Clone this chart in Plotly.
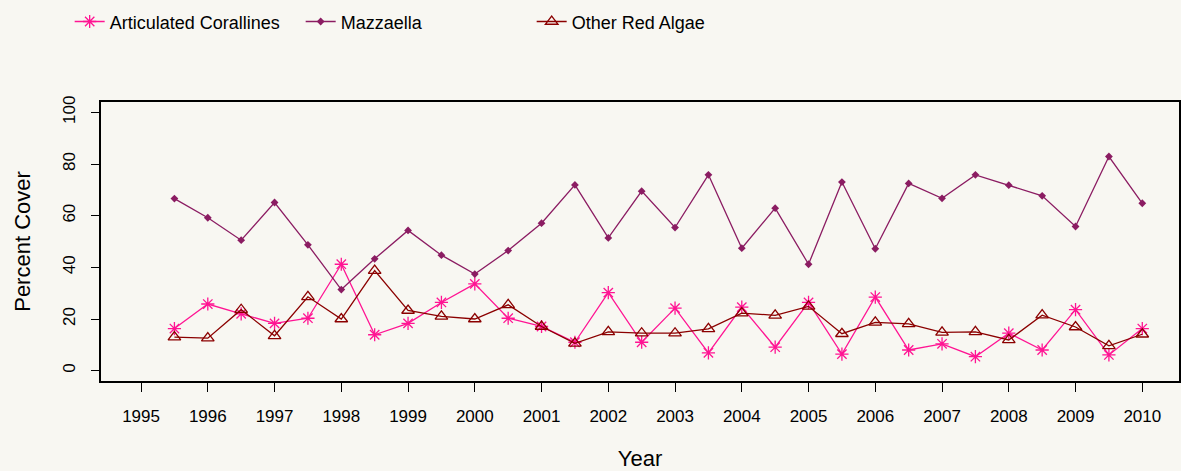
import plotly.graph_objs as go

years = [1995.5 + 0.5 * i for i in range(30)]

corallines = [16.3, 25.8, 22.0, 18.3, 20.3, 41.2, 13.9, 18.3, 26.4, 33.6,
              20.3, 17.1, 11.0, 30.2, 11.0, 24.2, 6.9, 24.6, 9.1, 26.4,
              6.4, 28.5, 8.0, 10.4, 5.4, 14.5, 8.0, 23.6, 6.1, 16.3]
mazzaella = [66.6, 59.2, 50.5, 65.1, 48.7, 31.4, 43.3, 54.3, 44.7, 37.4,
             46.5, 57.1, 71.9, 51.4, 69.5, 55.4, 75.8, 47.4, 62.9, 41.2,
             73.0, 47.2, 72.5, 66.7, 75.8, 71.8, 67.7, 55.8, 82.9, 64.8]
other_red = [13.0, 12.6, 23.6, 13.5, 28.6, 20.0, 38.7, 23.3, 21.0, 20.0,
             25.5, 17.1, 10.6, 15.0, 14.5, 14.5, 16.2, 22.3, 21.4, 24.9,
             14.3, 18.7, 18.1, 14.8, 15.0, 11.9, 21.5, 16.9, 9.6, 14.1]

tick_years = list(range(1995, 2011))
bg = "#F8F7F2"
font = "Liberation Sans, Arial, sans-serif"

fig = go.Figure()
fig.add_trace(go.Scatter(
    x=years, y=corallines, mode="lines+markers", name="Articulated Corallines",
    line={"color": "#FF1493", "width": 1.3},
    marker={"symbol": "asterisk-open", "size": 11, "color": "#FF1493",
            "line": {"color": "#FF1493", "width": 1.3}},
))
fig.add_trace(go.Scatter(
    x=years, y=mazzaella, mode="lines+markers", name="Mazzaella",
    line={"color": "#8B1C62", "width": 1.3},
    marker={"symbol": "diamond", "size": 6, "color": "#8B1C62"},
))
fig.add_trace(go.Scatter(
    x=years, y=other_red, mode="lines+markers", name="Other Red Algae",
    line={"color": "#8B0000", "width": 1.3},
    marker={"symbol": "triangle-up-open", "size": 11, "color": "#8B0000",
            "line": {"color": "#8B0000", "width": 1.3}},
))

fig.update_layout(
    width=1181,
    height=471,
    paper_bgcolor=bg,
    plot_bgcolor=bg,
    font={"family": font, "color": "black", "size": 17},
    margin={"l": 101, "r": 0, "t": 102, "b": 90},
    showlegend=True,
    legend={
        "orientation": "h", "x": 0.059, "y": 0.993, "xref": "container", "yref": "container",
        "xanchor": "left", "yanchor": "top",
        "font": {"size": 18}, "entrywidth": 186, "bgcolor": "rgba(0,0,0,0)",
    },
)
fig.update_xaxes(
    range=[1994.4, 2010.55], tickvals=tick_years, ticktext=[str(y) for y in tick_years],
    showgrid=False, zeroline=False, showline=True, mirror=True,
    linecolor="black", linewidth=1.5, ticks="outside", ticklen=9, tickcolor="black",
    ticklabelstandoff=10,
    title={"text": "Year", "font": {"size": 22}, "standoff": 26},
)
fig.update_yaxes(
    range=[-4, 104], tickvals=[0, 20, 40, 60, 80, 100], tickangle=-90,
    showgrid=False, zeroline=False, showline=True, mirror=True,
    linecolor="black", linewidth=1.5, ticks="outside", ticklen=8, tickcolor="black",
    ticklabelstandoff=9,
    title={"text": "Percent Cover", "font": {"size": 22}, "standoff": 24},
)

fig.write_html(
    "out.html",
    config={"displayModeBar": False},
    post_script="document.body.style.margin='0';document.body.style.background='%s';" % bg,
)
